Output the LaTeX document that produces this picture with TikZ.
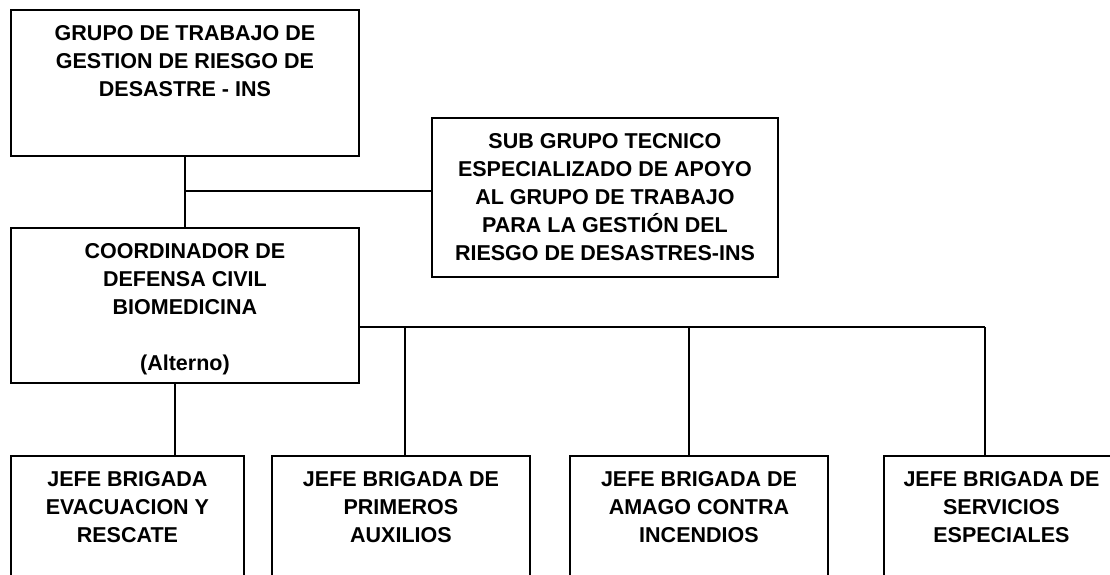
\documentclass[tikz,border=0pt]{standalone}
\usepackage{fontspec}
\setmainfont{Liberation Sans}
\tikzset{
  orgbox/.style={draw, line width=1.9pt, inner sep=0pt, anchor=north west,
    font=\bfseries\fontsize{21.5}{28}\selectfont},
  link/.style={line width=1.9pt}
}
\newcommand\cardtext[3]{\parbox[c][#2pt][t]{#1pt}{\centering\rule{0pt}{31pt}#3}}
\begin{document}
\begin{tikzpicture}[x=1pt,y=-1pt]
\path[use as bounding box, clip] (0,0) rectangle (1110,575);
\node[orgbox] (grupo) at (10,9) {\cardtext{348}{146}{GRUPO DE TRABAJO DE\\GESTION DE RIESGO DE\\DESASTRE - INS}};
\node[orgbox] (subgrupo) at (431,117) {\cardtext{346}{159}{SUB GRUPO TECNICO\\ESPECIALIZADO DE APOYO\\AL GRUPO DE TRABAJO\\PARA LA GESTIÓN DEL\\RIESGO DE DESASTRES-INS}};
\node[orgbox] (coord) at (10,227) {\cardtext{348}{155}{COORDINADOR DE\\DEFENSA CIVIL\\BIOMEDICINA\\[28pt](Alterno)}};
\node[orgbox] (jefeA) at (10,455) {\cardtext{233}{135}{JEFE BRIGADA\\EVACUACION Y\\RESCATE}};
\node[orgbox] (jefeB) at (271,455) {\cardtext{258}{135}{JEFE BRIGADA DE\\PRIMEROS\\AUXILIOS}};
\node[orgbox] (jefeC) at (569,455) {\cardtext{258}{135}{JEFE BRIGADA DE\\AMAGO CONTRA\\INCENDIOS}};
\node[orgbox] (jefeD) at (883,455) {\cardtext{235}{135}{JEFE BRIGADA DE\\SERVICIOS\\ESPECIALES}};
\coordinate (j1) at (185,191);
\coordinate (j2) at (358,327);
\draw[link] (grupo.south -| j1) -- (coord.north -| j1);
\draw[link] (j1) -- (j1 -| subgrupo.west);
\draw[link] (j2) -- (j2 -| 985,0);
\foreach \x/\n in {405/jefeB,689/jefeC,985/jefeD}
  \draw[link] (j2 -| \x,0) -- (\n.north -| \x,0);
\draw[link] (coord.south -| 175,0) -- (jefeA.north -| 175,0);
\end{tikzpicture}
\end{document}
